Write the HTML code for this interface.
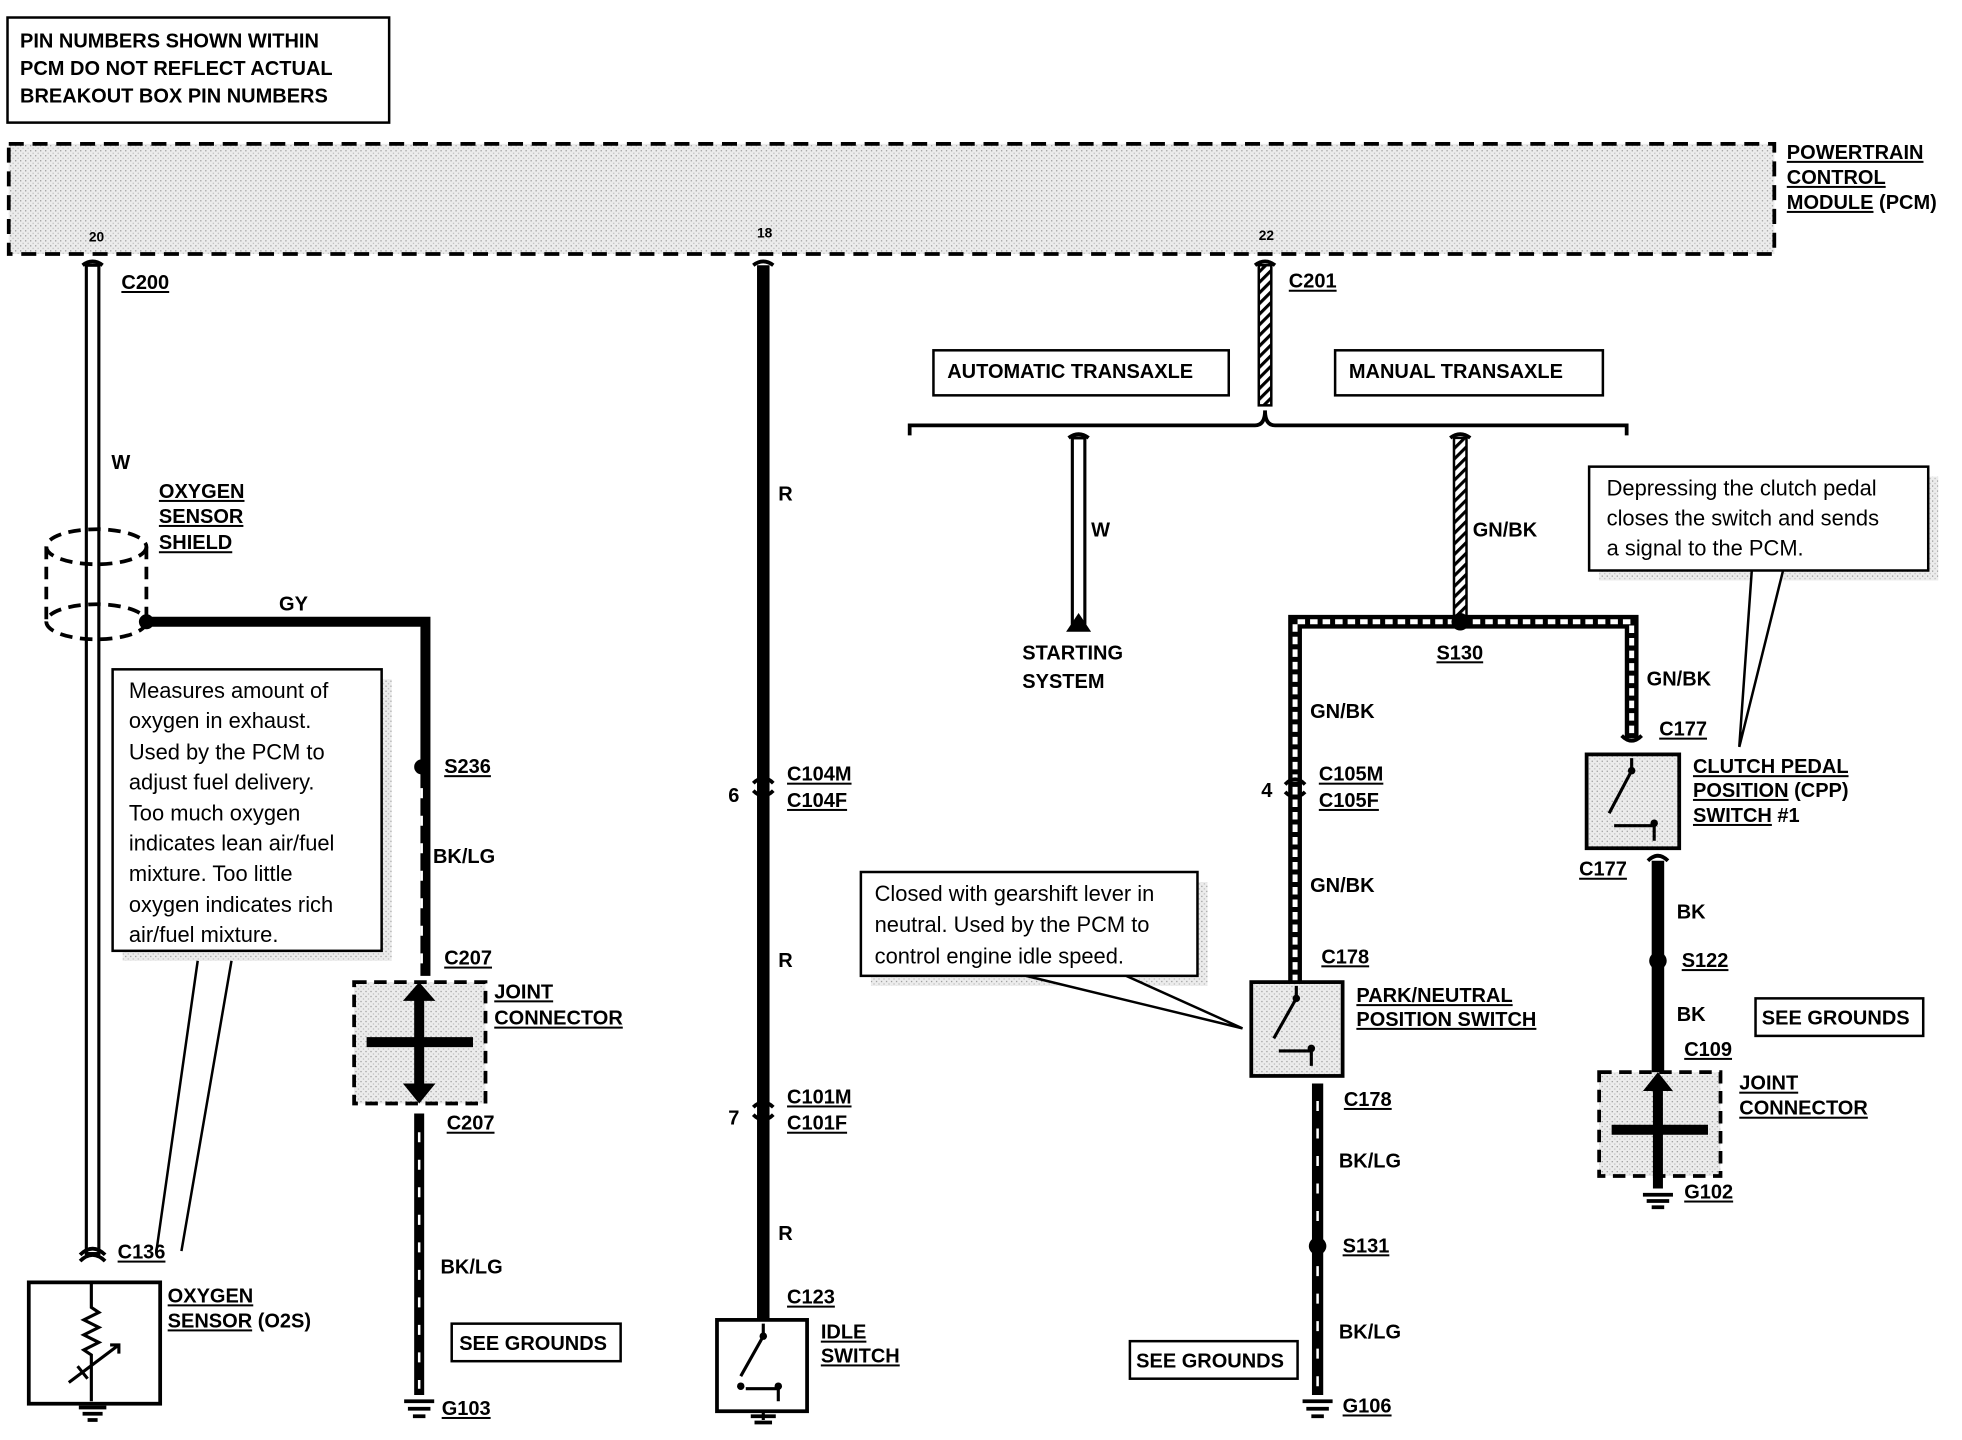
<!DOCTYPE html>
<html><head><meta charset="utf-8"><style>
html,body{margin:0;padding:0;background:#fff;}
svg{display:block;}
text{font-family:"Liberation Sans",sans-serif;fill:#000;}
.b{font-weight:bold;font-size:16px;}
.u{text-decoration:underline;}
.n{font-size:17.5px;}
</style></head><body>
<svg width="1962" height="1440" viewBox="0 0 1568 1151" preserveAspectRatio="none" xmlns="http://www.w3.org/2000/svg">
<defs>
<pattern id="st" width="4" height="4" patternUnits="userSpaceOnUse"><rect width="4" height="4" fill="#ececec"/><rect x="0" y="0" width="1" height="1" fill="#999"/><rect x="2" y="2" width="1" height="1" fill="#bbb"/></pattern>
<pattern id="hatch" width="6" height="6" patternUnits="userSpaceOnUse" patternTransform="rotate(45)"><rect width="6" height="6" fill="#fff"/><rect width="2.5" height="6" fill="#000"/></pattern>
</defs>
<rect width="1568" height="1151" fill="#fff"/>
<!-- note box -->
<rect x="6" y="14" width="305" height="84" fill="none" stroke="#000" stroke-width="2"/>
<text class="b" x="16" y="38">PIN NUMBERS SHOWN WITHIN</text>
<text class="b" x="16" y="60">PCM DO NOT REFLECT ACTUAL</text>
<text class="b" x="16" y="82">BREAKOUT BOX PIN NUMBERS</text>
<!-- PCM -->
<rect x="7" y="115" width="1411" height="88" fill="url(#st)" stroke="#000" stroke-width="3" stroke-dasharray="12,7"/>
<text class="b u" x="1428" y="127">POWERTRAIN</text>
<text class="b u" x="1428" y="147">CONTROL</text>
<text class="b" x="1428" y="167"><tspan class="u">MODULE</tspan> (PCM)</text>
<text x="71" y="193" font-size="11" font-weight="bold">20</text>
<text x="605" y="190" font-size="11" font-weight="bold">18</text>
<text x="1006" y="192" font-size="11" font-weight="bold">22</text>

<!-- wire 20 (W) -->
<path d="M66 212 q8 -6 16 0" fill="none" stroke="#000" stroke-width="3"/>
<rect x="69" y="212" width="10" height="790" fill="#fff" stroke="#000" stroke-width="2.5"/>
<text class="b u" x="97" y="231">C200</text>
<text class="b" x="89" y="375">W</text>
<path d="M64 1003 q10 -10 20 0 M64 1008 q10 -10 20 0" fill="none" stroke="#000" stroke-width="3"/>
<text class="b u" x="94" y="1006">C136</text>
<!-- shield -->
<ellipse cx="77" cy="437" rx="40" ry="14" fill="none" stroke="#000" stroke-width="3" stroke-dasharray="10,6"/>
<ellipse cx="77" cy="497" rx="40" ry="14" fill="none" stroke="#000" stroke-width="3" stroke-dasharray="10,6"/>
<path d="M37 437 V497 M117 437 V497" stroke="#000" stroke-width="3" stroke-dasharray="10,6"/>
<text class="b u" x="127" y="398">OXYGEN</text>
<text class="b u" x="127" y="418">SENSOR</text>
<text class="b u" x="127" y="439">SHIELD</text>
<!-- GY wire -->
<path d="M117 497 H340 V780" fill="none" stroke="#000" stroke-width="8"/>
<circle cx="117" cy="497" r="6"/>
<text class="b" x="223" y="488">GY</text>
<circle cx="337" cy="613" r="6"/>
<text class="b u" x="355" y="618">S236</text>
<text class="b" x="346" y="690">BK/LG</text>
<path d="M337 630 V770" stroke="#fff" stroke-width="2" stroke-dasharray="8,14"/>
<text class="b u" x="355" y="771">C207</text>
<!-- callout 1 -->
<rect x="98" y="543" width="215" height="225" fill="url(#st)"/>
<path d="M158 768 L125 1000 M185 768 L145 1000" stroke="#000" stroke-width="2"/>
<rect x="90" y="535" width="215" height="225" fill="#fff" stroke="#000" stroke-width="2"/>
<text class="n" x="103" y="558">Measures amount of</text>
<text class="n" x="103" y="582">oxygen in exhaust.</text>
<text class="n" x="103" y="607">Used by the PCM to</text>
<text class="n" x="103" y="631">adjust fuel delivery.</text>
<text class="n" x="103" y="656">Too much oxygen</text>
<text class="n" x="103" y="680">indicates lean air/fuel</text>
<text class="n" x="103" y="704">mixture. Too little</text>
<text class="n" x="103" y="729">oxygen indicates rich</text>
<text class="n" x="103" y="753">air/fuel  mixture.</text>
<!-- joint connector 1 -->
<rect x="283" y="785" width="105" height="97" fill="url(#st)" stroke="#000" stroke-width="3" stroke-dasharray="10,6"/>
<path d="M335 795 V872 M293 833 H378" stroke="#000" stroke-width="8"/>
<path d="M322 800 L335 785 L348 800 Z M322 866 L335 882 L348 866 Z"/>
<text class="b u" x="395" y="798">JOINT</text>
<text class="b u" x="395" y="819">CONNECTOR</text>
<text class="b u" x="357" y="903">C207</text>
<path d="M335 890 V1115" stroke="#000" stroke-width="8"/>
<path d="M335 905 V1110" stroke="#fff" stroke-width="2" stroke-dasharray="8,14"/>
<text class="b" x="352" y="1018">BK/LG</text>
<rect x="361" y="1058" width="135" height="30" fill="none" stroke="#000" stroke-width="2"/>
<text class="b" x="367" y="1079">SEE GROUNDS</text>
<path d="M323 1120 H347 M326 1126 H344 M330 1132 H340" stroke="#000" stroke-width="3"/>
<text class="b u" x="353" y="1131">G103</text>
<!-- O2S -->
<rect x="23" y="1025" width="105" height="97" fill="#fff" stroke="#000" stroke-width="3"/>
<path d="M73 1025 V1045 l6 4 -12 6 12 6 -12 6 12 6 -12 6 6 4 V1120" fill="none" stroke="#000" stroke-width="2.5"/>
<path d="M55 1105 L95 1075 M88 1075 H95 V1082 M62 1092 L70 1102" fill="none" stroke="#000" stroke-width="2.5"/>
<path d="M63 1125 H85 M66 1130 H82 M70 1135 H78" stroke="#000" stroke-width="3"/>
<text class="b u" x="134" y="1041">OXYGEN</text>
<text class="b" x="134" y="1061"><tspan class="u">SENSOR</tspan> (O2S)</text>

<!-- wire 18 R -->
<path d="M602 212 q8 -6 16 0" fill="none" stroke="#000" stroke-width="3"/>
<path d="M610 212 V1055" stroke="#000" stroke-width="10"/>
<text class="b" x="622" y="400">R</text>
<text class="b" x="622" y="773">R</text>
<text class="b" x="622" y="991">R</text>
<path d="M602 626 q8 -8 16 0 M602 632 q8 8 16 0" fill="none" stroke="#000" stroke-width="3"/>
<text class="b" x="582" y="641">6</text>
<text class="b u" x="629" y="624">C104M</text>
<text class="b u" x="629" y="645">C104F</text>
<path d="M602 885 q8 -8 16 0 M602 891 q8 8 16 0" fill="none" stroke="#000" stroke-width="3"/>
<text class="b" x="582" y="899">7</text>
<text class="b u" x="629" y="882">C101M</text>
<text class="b u" x="629" y="903">C101F</text>
<text class="b u" x="629" y="1042">C123</text>
<rect x="573" y="1055" width="72" height="73" fill="#fff" stroke="#000" stroke-width="3"/>
<path d="M610 1058 V1068 L592 1100 M596 1110 H622 V1120 M610 1128 V1135" fill="none" stroke="#000" stroke-width="2.5" stroke-dasharray="0"/>
<circle cx="610" cy="1068" r="3"/><circle cx="592" cy="1108" r="3"/><circle cx="622" cy="1108" r="3"/>
<path d="M600 1132 H620 M603 1137 H617" stroke="#000" stroke-width="3"/>
<text class="b u" x="656" y="1070">IDLE</text>
<text class="b u" x="656" y="1089">SWITCH</text>

<!-- wire 22 -->
<path d="M1003 212 q8 -6 16 0" fill="none" stroke="#000" stroke-width="3"/>
<rect x="1006" y="212" width="10" height="112" fill="url(#hatch)" stroke="#000" stroke-width="2"/>
<text class="b u" x="1030" y="230">C201</text>
<rect x="746" y="280" width="236" height="36" fill="none" stroke="#000" stroke-width="2"/>
<text class="b" x="757" y="302">AUTOMATIC TRANSAXLE</text>
<rect x="1067" y="280" width="214" height="36" fill="none" stroke="#000" stroke-width="2"/>
<text class="b" x="1078" y="302">MANUAL TRANSAXLE</text>
<path d="M727 348 V340 H1003 Q1011 340 1011 328 Q1011 340 1019 340 H1300 V348" fill="none" stroke="#000" stroke-width="3"/>
<!-- W starting -->
<path d="M854 350 q8 -6 16 0" fill="none" stroke="#000" stroke-width="3"/>
<rect x="857" y="350" width="10" height="148" fill="#fff" stroke="#000" stroke-width="2.5"/>
<path d="M852 505 L862 490 L872 505 Z"/>
<text class="b" x="872" y="429">W</text>
<text class="b" x="817" y="527">STARTING</text>
<text class="b" x="817" y="550">SYSTEM</text>
<!-- GN/BK -->
<path d="M1159 350 q8 -6 16 0" fill="none" stroke="#000" stroke-width="3"/>
<rect x="1162" y="350" width="10" height="145" fill="url(#hatch)" stroke="#000" stroke-width="2"/>
<text class="b" x="1177" y="429">GN/BK</text>
<path d="M1035 785 V497 H1304 V590" fill="none" stroke="#000" stroke-width="11"/>
<path d="M1035 785 V497 H1304 V590" fill="none" stroke="#fff" stroke-width="4" stroke-dasharray="6,4"/>
<circle cx="1167" cy="497" r="7"/>
<text class="b u" x="1148" y="527">S130</text>
<text class="b" x="1047" y="574">GN/BK</text>
<text class="b" x="1047" y="713">GN/BK</text>
<text class="b" x="1316" y="548">GN/BK</text>
<path d="M1027 627 q8 -8 16 0 M1027 633 q8 8 16 0" fill="none" stroke="#000" stroke-width="3"/>
<text class="b" x="1008" y="637">4</text>
<text class="b u" x="1054" y="624">C105M</text>
<text class="b u" x="1054" y="645">C105F</text>
<text class="b u" x="1056" y="770">C178</text>
<!-- PNP switch -->
<rect x="1000" y="785" width="73" height="75" fill="url(#st)" stroke="#000" stroke-width="3"/>
<path d="M1036 788 V798 L1018 830 M1022 840 H1048 V852" fill="none" stroke="#000" stroke-width="2.5"/>
<circle cx="1036" cy="798" r="3"/><circle cx="1048" cy="838" r="3"/>
<text class="b u" x="1084" y="801">PARK/NEUTRAL</text>
<text class="b u" x="1084" y="820">POSITION SWITCH</text>
<text class="b u" x="1074" y="884">C178</text>
<path d="M1053 866 V1115" stroke="#000" stroke-width="9"/>
<path d="M1053 880 V1110" stroke="#fff" stroke-width="2" stroke-dasharray="8,14"/>
<text class="b" x="1070" y="933">BK/LG</text>
<circle cx="1053" cy="996" r="7"/>
<text class="b u" x="1073" y="1001">S131</text>
<text class="b" x="1070" y="1070">BK/LG</text>
<rect x="903" y="1072" width="134" height="30" fill="none" stroke="#000" stroke-width="2"/>
<text class="b" x="908" y="1093">SEE GROUNDS</text>
<path d="M1041 1120 H1065 M1044 1126 H1062 M1048 1132 H1058" stroke="#000" stroke-width="3"/>
<text class="b u" x="1073" y="1129">G106</text>
<!-- callout 2 -->
<rect x="696" y="705" width="269" height="83" fill="url(#st)"/>
<path d="M820 780 L993 822 L900 780" fill="#fff" stroke="#000" stroke-width="2"/>
<rect x="688" y="697" width="269" height="83" fill="#fff" stroke="#000" stroke-width="2"/>
<text class="n" x="699" y="720">Closed with gearshift lever in</text>
<text class="n" x="699" y="745">neutral. Used by the PCM to</text>
<text class="n" x="699" y="770">control engine idle speed.</text>
<!-- CPP -->
<path d="M1296 588 q8 8 16 0" fill="none" stroke="#000" stroke-width="3"/>
<text class="b u" x="1326" y="588">C177</text>
<rect x="1268" y="603" width="74" height="75" fill="url(#st)" stroke="#000" stroke-width="3"/>
<path d="M1304 606 V616 L1286 650 M1290 660 H1322 V672" fill="none" stroke="#000" stroke-width="2.5"/>
<circle cx="1304" cy="616" r="3"/><circle cx="1322" cy="658" r="3"/>
<text class="b u" x="1353" y="618">CLUTCH PEDAL</text>
<text class="b" x="1353" y="637"><tspan class="u">POSITION</tspan> (CPP)</text>
<text class="b" x="1353" y="657"><tspan class="u">SWITCH</tspan> #1</text>
<text class="b u" x="1262" y="700">C177</text>
<path d="M1317 688 q8 -8 16 0" fill="none" stroke="#000" stroke-width="3"/>
<path d="M1325 688 V860" stroke="#000" stroke-width="10"/>
<text class="b" x="1340" y="734">BK</text>
<circle cx="1325" cy="768" r="7"/>
<text class="b u" x="1344" y="773">S122</text>
<text class="b" x="1340" y="816">BK</text>
<rect x="1403" y="798" width="134" height="30" fill="none" stroke="#000" stroke-width="2"/>
<text class="b" x="1408" y="819">SEE GROUNDS</text>
<text class="b u" x="1346" y="844">C109</text>
<rect x="1278" y="857" width="97" height="83" fill="url(#st)" stroke="#000" stroke-width="3" stroke-dasharray="10,6"/>
<path d="M1325 870 V950 M1288 903 H1365" stroke="#000" stroke-width="8"/>
<path d="M1313 872 L1325 857 L1337 872 Z"/>
<path d="M1313 955 H1337 M1316 960 H1334 M1320 965 H1330" stroke="#000" stroke-width="3"/>
<text class="b u" x="1390" y="871">JOINT</text>
<text class="b u" x="1390" y="891">CONNECTOR</text>
<text class="b u" x="1346" y="958">G102</text>
<!-- callout 3 -->
<rect x="1278" y="381" width="271" height="83" fill="url(#st)"/>
<path d="M1400 456 L1390 597 L1425 456" fill="#fff" stroke="#000" stroke-width="2"/>
<rect x="1270" y="373" width="271" height="83" fill="#fff" stroke="#000" stroke-width="2"/>
<text class="n" x="1284" y="396">Depressing the clutch pedal</text>
<text class="n" x="1284" y="420">closes the switch and sends</text>
<text class="n" x="1284" y="444">a signal to the PCM.</text>
</svg>
</body></html>
